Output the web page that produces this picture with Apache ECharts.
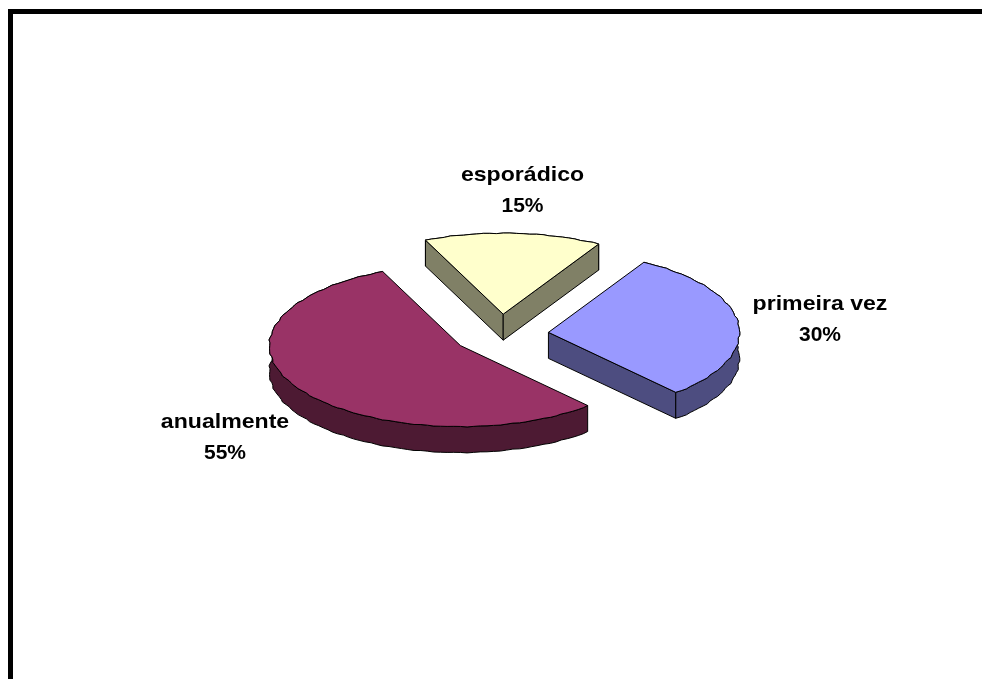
<!DOCTYPE html>
<html>
<head>
<meta charset="utf-8">
<style>html,body{margin:0;padding:0;background:#fff}#main{width:982px;height:679px}</style>
<script src="https://cdn.jsdelivr.net/npm/echarts@6/dist/echarts.min.js"></script>
</head>
<body>
<div id="main"></div>
<script>
// Data
const categories = ['esporádico', 'primeira vez', 'anualmente'];
const values = [15, 30, 55];

// Styles and layout, kept apart from the data
const topColors = ['#FFFFCC', '#9999FF', '#993366'];
const sideColors = ['#808066', '#4D4D80', '#4D1A33'];
const labelCentres = [[522.5, 175], [820, 304.5], [225, 422.5]];
const LINE_GAP = 31;
const PIE = { cx: 500.7, cy: 334.5, rx: 191, ry: 81, depth: 26, explode: 48, startDeg: -24 };

const total = values.reduce((a, b) => a + b, 0);
const startAngles = values.map((_, i) =>
  PIE.startDeg + values.slice(0, i).reduce((a, b) => a + b, 0) / total * 360);

function wobble(deg) {
  const t = deg * Math.PI / 180;
  return 1 + 0.003 * Math.sin(t * 41) + 0.002 * Math.sin(t * 67 + 1);
}
function rimPoint(ox, oy, deg, dy) {
  const t = deg * Math.PI / 180, w = wobble(deg);
  return [ox + PIE.rx * w * Math.sin(t), oy - PIE.ry * w * Math.cos(t) + dy];
}
function arc(ox, oy, from, to, dy) {
  const pts = [], steps = Math.max(2, Math.ceil((to - from) / 2));
  for (let k = 0; k <= steps; k++) pts.push(rimPoint(ox, oy, from + (to - from) * k / steps, dy));
  return pts;
}
function poly(points, fill) {
  return {
    type: 'polygon',
    shape: { points: points },
    style: { fill: fill, stroke: '#000', lineWidth: 1, lineJoin: 'round' }
  };
}
function label(text, x, y, scaleX) {
  return {
    type: 'text', x: x, y: y, scaleX: scaleX,
    style: {
      text: text, x: 0, y: 0, align: 'center', verticalAlign: 'middle', fill: '#000',
      font: 'bold 21px "Liberation Sans", Arial, sans-serif'
    }
  };
}

function renderItem(params, api) {
  const i = params.dataIndex;
  const value = api.value(0);
  const from = startAngles[i];
  const to = from + value / total * 360;
  const mid = (from + to) / 2 * Math.PI / 180;
  const ox = PIE.cx + PIE.explode * Math.sin(mid);
  const oy = PIE.cy - PIE.explode * PIE.ry / PIE.rx * Math.cos(mid);
  const d = PIE.depth;
  const topArc = arc(ox, oy, from, to, 0);
  const a = topArc[0], b = topArc[topArc.length - 1];
  const rim = topArc.concat(arc(ox, oy, from, to, d).reverse());
  const c = labelCentres[i];
  const children = [poly(rim, sideColors[i])];
  // A cut face shows only when it turns towards the viewer.
  if (Math.sin(from * Math.PI / 180) < 0) {
    children.push(poly([[ox, oy], a, [a[0], a[1] + d], [ox, oy + d]], sideColors[i]));
  }
  if (Math.sin(to * Math.PI / 180) > 0) {
    children.push(poly([[ox, oy], b, [b[0], b[1] + d], [ox, oy + d]], sideColors[i]));
  }
  children.push(
    poly([[ox, oy]].concat(topArc), topColors[i]),
    label(categories[i], c[0], c[1], 1.1),
    label(value + '%', c[0], c[1] + LINE_GAP, 1)
  );
  return { type: 'group', children: children };
}

const chart = echarts.init(document.getElementById('main'), null, { renderer: 'canvas' });
chart.setOption({
  animation: false,
  backgroundColor: '#fff',
  graphic: [
    { type: 'rect', shape: { x: 8, y: 9, width: 974, height: 5 }, style: { fill: '#000' }, silent: true },
    { type: 'rect', shape: { x: 8, y: 9, width: 5, height: 670 }, style: { fill: '#000' }, silent: true }
  ],
  series: [{
    type: 'custom',
    coordinateSystem: 'none',
    renderItem: renderItem,
    data: values.map((v, i) => ({ name: categories[i], value: [v] }))
  }]
});
</script>
</body>
</html>
